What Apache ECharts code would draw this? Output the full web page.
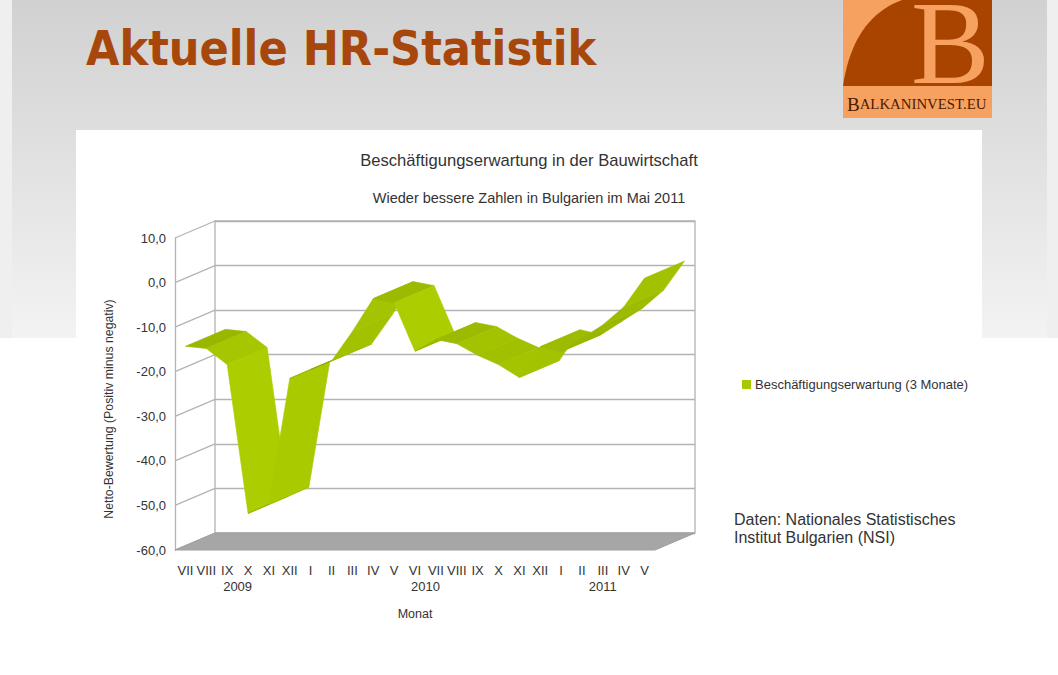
<!DOCTYPE html>
<html><head><meta charset="utf-8">
<script src="https://cdn.jsdelivr.net/npm/echarts@6/dist/echarts.min.js"></script>
<style>html,body{margin:0;padding:0;background:#fff}#c{width:1058px;height:675px}</style>
</head><body><div id="c"></div>
<script>
// ---- data ----
const monthLabels = ['VII','VIII','IX','X','XI','XII','I','II','III','IV','V','VI','VII','VIII','IX','X','XI','XII','I','II','III','IV','V'];
const monthYears  = [2009,2009,2009,2009,2009,2009,2010,2010,2010,2010,2010,2010,2010,2010,2010,2010,2010,2010,2011,2011,2011,2011,2011];
const yearLabels = ['2009','2010','2011'];
const yearFirstMonth = [0, 6, 18];
const yearLastMonth  = [5, 17, 22];
const expectation = [-14.3, -14.8, -18.4, -51.8, -49.7, -21.5, -19.5, -17.6, -11.0, -3.6, -4.5, -15.4, -12.8, -13.7, -16.3, -18.4, -21.3, -14.4, -15.5, -12.5, -9.5, -5.5, 1.0];
const yTicks = [-60, -50, -40, -30, -20, -10, 0, 10];
const seriesName = 'Beschäftigungserwartung (3 Monate)';

// ---- styling constants ----
const DX = 40, DY = -17;             // oblique depth offset
const GRID_COLOR = '#b3b3b3';
const TEXT = '#333333';
const FONT = "'Liberation Sans', Arial, sans-serif";

const categories = monthLabels.map((m, i) => m + ' ' + monthYears[i]);
const segments = expectation.slice(0, -1).map((v, i) => [i, v, expectation[i + 1]]);

function shade(a, b) {
  const dx = b[0] - a[0], dyUp = a[1] - b[1];
  const L = Math.hypot(dx, dyUp) || 1;
  let nx = -dyUp / L, ny = dx / L;
  const c = DY * dx + dyUp * DX; // screen cross of edge and depth
  if (c > 0) { nx = -nx; ny = -ny; }
  const dot = nx * 0.97 + ny * 0.24;
  const f = 0.84 + 0.16 * dot;
  const r = Math.round(172 * f), g = Math.round(205 * f);
  return 'rgb(' + r + ',' + g + ',0)';
}

// decorative logo curve
const arcPts = [];
for (let k = 0; k <= 20; k++) {
  const t = k / 20;
  arcPts.push([(1 - t) * (1 - t) * 843 + 2 * (1 - t) * t * 853 + t * t * 902, (1 - t) * (1 - t) * 86 + 2 * (1 - t) * t * 18 + t * t * 0]);
}
arcPts.push([992, 0], [992, 86]);

const chart = echarts.init(document.getElementById('c'), null, { renderer: 'svg' });

const option = {
  animation: false,
  backgroundColor: '#ffffff',
  graphic: [
    { type: 'rect', z: -10, shape: { x: 0, y: 0, width: 12, height: 338 }, style: { fill: '#efefef' }, silent: true },
    { type: 'rect', z: -10, shape: { x: 1047, y: 0, width: 11, height: 338 }, style: { fill: '#efefef' }, silent: true },
    { type: 'rect', z: -10, shape: { x: 12, y: 0, width: 1035, height: 338 }, silent: true,
      style: { fill: new echarts.graphic.LinearGradient(0, 0, 0, 1, [{ offset: 0, color: '#d1d1d1' }, { offset: 1, color: '#f3f3f3' }]) } },
    { type: 'rect', z: -9, shape: { x: 76, y: 130, width: 906, height: 545 }, style: { fill: '#ffffff' }, silent: true },
    // logo
    { type: 'rect', z: -8, shape: { x: 843, y: 0, width: 149, height: 118 }, style: { fill: '#f7a160' }, silent: true },
    { type: 'polygon', z: -7, shape: { points: arcPts }, style: { fill: '#a84400' }, silent: true },
    { type: 'text', z: -6, x: 911, y: 43, style: { text: 'B', fill: '#f7a160', font: "118px 'Liberation Serif', 'DejaVu Serif', serif", lineHeight: 78, verticalAlign: 'middle', align: 'left' }, silent: true },
    { type: 'text', z: -6, x: 847, y: 104, style: {
        text: '{a|B}{b|ALKANINVEST.EU}', verticalAlign: 'middle', align: 'left',
        rich: { a: { fontSize: 19, fontFamily: "'Liberation Serif', serif", fill: '#4a1a00' },
                b: { fontSize: 14.8, fontFamily: "'Liberation Serif', serif", fill: '#4a1a00' } } }, silent: true },
    // page title
    { type: 'text', z: 10, x: 86, y: 48, style: { text: 'Aktuelle HR-Statistik', fill: '#a8470b',
        font: "bold 48px 'DejaVu Sans Condensed', 'DejaVu Sans', sans-serif", verticalAlign: 'middle', align: 'left' } },
    // chart titles
    { type: 'text', z: 10, x: 529, y: 160, style: { text: 'Beschäftigungserwartung in der Bauwirtschaft', fill: TEXT,
        font: '16.6px ' + FONT, verticalAlign: 'middle', align: 'center' } },
    { type: 'text', z: 10, x: 529, y: 198, style: { text: 'Wieder bessere Zahlen in Bulgarien im Mai 2011', fill: TEXT,
        font: '14.5px ' + FONT, verticalAlign: 'middle', align: 'center' } },
    // source note
    { type: 'text', z: 10, x: 734, y: 528, style: { text: 'Daten: Nationales Statistisches\nInstitut Bulgarien (NSI)', fill: TEXT,
        font: '16px ' + FONT, lineHeight: 18, verticalAlign: 'middle', align: 'left' } }
  ],
  legend: {
    left: 737, top: 373, icon: 'rect', itemWidth: 9, itemHeight: 9, itemGap: 4,
    textStyle: { fontSize: 13, color: TEXT, fontFamily: FONT, padding: [0, 0, 0, -1] },
    data: [{ name: seriesName, itemStyle: { color: '#a8c800' } }]
  },
  grid: [
    { left: 175, top: 238, width: 480, height: 312, show: false },
    { left: 215, top: 221, width: 480, height: 312, show: true, borderColor: GRID_COLOR, borderWidth: 1.3, backgroundColor: 'transparent' }
  ],
  xAxis: [
    { type: 'category', gridIndex: 0, data: categories, boundaryGap: true,
      axisLine: { show: false }, axisTick: { show: false },
      axisLabel: { interval: 0, margin: 14, fontSize: 13, color: TEXT, fontFamily: FONT, formatter: v => v.split(' ')[0] },
      name: 'Monat', nameLocation: 'middle', nameGap: 57, nameTextStyle: { fontSize: 12.5, color: TEXT, fontFamily: FONT } },
    { type: 'category', gridIndex: 1, data: categories, show: false }
  ],
  yAxis: [
    { type: 'value', gridIndex: 0, min: -60, max: 10, interval: 10,
      axisLine: { show: true, lineStyle: { color: GRID_COLOR, width: 1.3 } }, axisTick: { show: false }, splitLine: { show: false },
      axisLabel: { margin: 9, fontSize: 13, color: TEXT, fontFamily: FONT, formatter: v => v.toFixed(1).replace('.', ',') },
      name: 'Netto-Bewertung (Positiv minus negativ)', nameLocation: 'middle', nameGap: 60, nameRotate: 90,
      nameTextStyle: { fontSize: 12.3, color: TEXT, fontFamily: FONT, padding: [0, 30, 0, 0] } },
    { type: 'value', gridIndex: 1, min: -60, max: 10, interval: 10,
      axisLine: { show: false }, axisTick: { show: false }, axisLabel: { show: false },
      splitLine: { show: true, lineStyle: { color: GRID_COLOR, width: 1.3 } } }
  ],
  series: [
    { type: 'custom', name: 'wall', xAxisIndex: 0, yAxisIndex: 0, z: 1, clip: false, silent: true,
      data: yTicks.map(v => [0, v]),
      renderItem(params, api) {
        const cs = params.coordSys;
        const p = api.coord([0, api.value(1)]);
        return { type: 'line', shape: { x1: cs.x, y1: p[1], x2: cs.x + DX, y2: p[1] + DY },
                 style: { stroke: GRID_COLOR, lineWidth: 1.3 } };
      } },
    { type: 'custom', name: 'floor', xAxisIndex: 0, yAxisIndex: 0, z: 2, clip: false, silent: true,
      data: [[0, yTicks[0]]],
      renderItem(params, api) {
        const cs = params.coordSys;
        const y = api.coord([0, api.value(1)])[1];
        return { type: 'polygon', shape: { points: [[cs.x, y], [cs.x + DX, y + DY], [cs.x + cs.width + DX, y + DY], [cs.x + cs.width, y]] },
                 style: { fill: '#a6a6a6', stroke: '#a0a0a0', lineWidth: 1 } };
      } },
    { type: 'custom', name: seriesName, xAxisIndex: 0, yAxisIndex: 0, z: 5, clip: false,
      itemStyle: { color: '#a8c800' },
      encode: { x: 0, y: [1, 2] },
      data: segments,
      renderItem(params, api) {
        const i = api.value(0);
        const a = api.coord([i, api.value(1)]);
        const b = api.coord([i + 1, api.value(2)]);
        const col = shade(a, b);
        return { type: 'polygon', shape: { points: [a, b, [b[0] + DX, b[1] + DY], [a[0] + DX, a[1] + DY]] },
                 style: { fill: col, stroke: col, lineWidth: 0.6 } };
      } },
    { type: 'custom', name: 'years', xAxisIndex: 0, yAxisIndex: 0, z: 5, clip: false, silent: true,
      data: yearFirstMonth.map((s, k) => [s, yearLastMonth[k]]),
      renderItem(params, api) {
        const cs = params.coordSys;
        const p0 = api.coord([api.value(0), 0]);
        const p1 = api.coord([api.value(1), 0]);
        return { type: 'text', x: (p0[0] + p1[0]) / 2, y: cs.y + cs.height + 36,
                 style: { text: yearLabels[params.dataIndex], fill: TEXT, font: '13px ' + FONT, align: 'center', verticalAlign: 'middle' } };
      } }
  ]
};
chart.setOption(option);
</script></body></html>
